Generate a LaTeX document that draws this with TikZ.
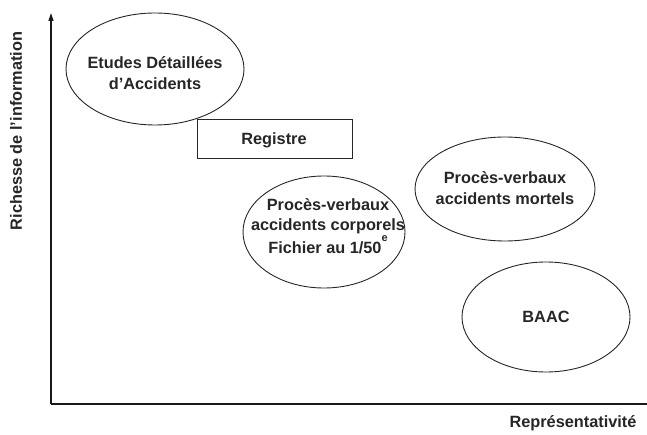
\documentclass[tikz,border=0pt]{standalone}
\usepackage{fontspec}
\setmainfont{Liberation Sans}
\usetikzlibrary{arrows.meta}
\tikzset{
  lbl/.style={font=\bfseries\fontsize{16.3}{20.5}\selectfont, text=black!85, align=center, inner sep=0pt},
  ell/.style={draw=black!85, line width=0.9pt},
  axis/.style={draw=black!90, line width=1.3pt},
}
\begin{document}
\begin{tikzpicture}[x=1pt,y=-1pt]
\useasboundingbox (0,0) rectangle (647,435);
% axes
\coordinate (O) at (51,404);
\coordinate (Ytop) at (51,13);
\coordinate (Xend) at (647,404);
\draw[axis, -{Triangle[width=5pt,length=8pt]}] (O) -- (Ytop);
\draw[axis] (O) -- (Xend);
\node[lbl, rotate=90] (ylab) at (16,131) {Richesse de l'information};
\node[lbl] (xlab) at (573,423) {Représentativité};
% ellipses
\draw[ell] (155,69) ellipse [x radius=89, y radius=56];
\node[lbl] (eda) at (155,73) {Etudes Détaillées\\d'Accidents};
\draw[ell] (197,119) rectangle (352,158);
\node[lbl] (reg) at (274,140) {Registre};
\draw[ell] (324,232) ellipse [x radius=81, y radius=56];
\node[lbl] (pvc) at (328,226) {Procès-verbaux\\accidents corporels\\Fichier au 1/50\raisebox{12pt}{\fontsize{11}{11}\selectfont e}};
\draw[ell] (505,189) ellipse [x radius=90, y radius=52];
\node[lbl] (pvm) at (505,188) {Procès-verbaux\\accidents mortels};
\draw[ell] (546,317) ellipse [x radius=84, y radius=55];
\node[lbl] (baac) at (546,317) {BAAC};
\end{tikzpicture}
\end{document}
